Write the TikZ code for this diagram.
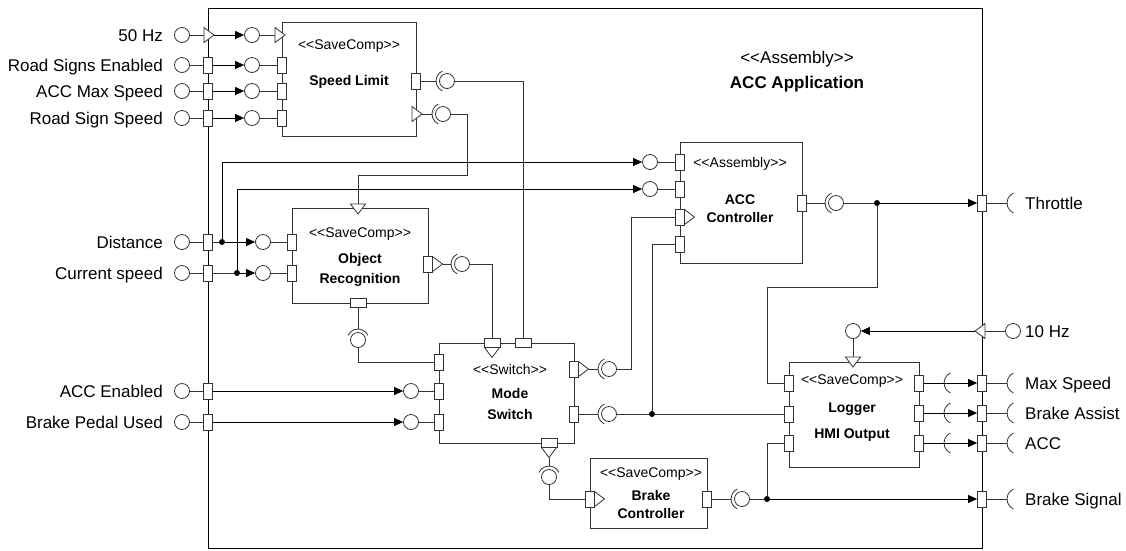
\documentclass[tikz,border=0pt]{standalone}
\usepackage{fontspec}
\setmainfont{Liberation Sans}[Ligatures=TeXOff]
\usetikzlibrary{arrows.meta}
\tikzset{
  box/.style={draw=black!80, line width=0.8pt, rectangle, inner sep=0pt},
  port/.style={draw=black!80, fill=white, line width=0.8pt, rectangle, inner sep=0pt, minimum width=9pt, minimum height=16pt},
  hport/.style={port, minimum width=16pt, minimum height=9pt},
  ball/.style={draw=black!80, fill=white, line width=0.8pt, circle, inner sep=0pt, minimum size=15pt},
  jdot/.style={circle, fill=black, inner sep=0pt, minimum size=6pt},
  wire/.style={draw=black!80, line width=0.8pt},
  sig/.style={draw=black, line width=0.8pt, -{Triangle[length=9pt,width=8pt]}},
  lbl/.style={inner sep=0pt, text height=12.2pt, text depth=0pt, font=\fontsize{17}{20}\selectfont},
  stereo/.style={inner sep=0pt, text height=10pt, text depth=0pt, font=\fontsize{14}{16}\selectfont},
  cname/.style={stereo, font=\fontsize{14}{16}\selectfont\bfseries},
  trig/.pic={\draw[wire, fill=white] (0,-7.5) -- (10,0) -- (0,7.5) -- cycle;
    \coordinate (-base) at (0,0); \coordinate (-tip) at (10,0);},
  sock/.pic={\draw[wire] (115:11) arc[start angle=115, end angle=245, radius=11];
    \coordinate (-end) at (-11,0);}
}
\begin{document}
\begin{tikzpicture}[x=1pt, y=-1pt]
\useasboundingbox (0,0) rectangle (1126,550);
\node[box, draw=black, minimum width=774pt, minimum height=540pt] (asm) at (595,278) {};
\node[lbl] (asmst) at (797,57) {<<Assembly>>};
\node[lbl, font=\fontsize{17}{20}\selectfont\bfseries] (asmnm) at (797,82) {ACC Application};

\node[box, minimum width=134pt, minimum height=114pt] (sl) at (349,79) {};
\node[stereo] (slst) at (349,44) {<<SaveComp>>};
\node[cname] (slnm) at (349,80) {Speed Limit};
\node[box, minimum width=136pt, minimum height=95pt] (orc) at (360,255.5) {};
\node[stereo] (orst) at (360,232) {<<SaveComp>>};
\node[cname] (ornm1) at (360,258) {Object};
\node[cname] (ornm2) at (360,278) {Recognition};
\node[box, minimum width=135pt, minimum height=100pt] (ms) at (506.5,393) {};
\node[stereo] (msst) at (510,369) {<<Switch>>};
\node[cname] (msnm1) at (510,393) {Mode};
\node[cname] (msnm2) at (510,414) {Switch};
\node[box, minimum width=122pt, minimum height=121pt] (acc) at (741,202.5) {};
\node[stereo] (accst) at (740,162) {<<Assembly>>};
\node[cname] (accnm1) at (740,199) {ACC};
\node[cname] (accnm2) at (740,217) {Controller};
\node[box, minimum width=130pt, minimum height=105pt] (lg) at (854,414.5) {};
\node[stereo] (lgst) at (852,379) {<<SaveComp>>};
\node[cname] (lgnm1) at (852,407) {Logger};
\node[cname] (lgnm2) at (852,433) {HMI Output};
\node[box, minimum width=117pt, minimum height=70pt] (bc) at (648.5,493) {};
\node[stereo] (bcst) at (651,472) {<<SaveComp>>};
\node[cname] (bcnm1) at (651,495) {Brake};
\node[cname] (bcnm2) at (651,513) {Controller};

\node[lbl, anchor=east] (tHz50) at (163,35) {50 Hz};
\node[lbl, anchor=east] (tRSE) at (163,65) {Road Signs Enabled};
\node[lbl, anchor=east] (tAMS) at (163,91) {ACC Max Speed};
\node[lbl, anchor=east] (tRSS) at (163,118) {Road Sign Speed};
\node[lbl, anchor=east] (tDist) at (163,242) {Distance};
\node[lbl, anchor=east] (tCur) at (163,273) {Current speed};
\node[lbl, anchor=east] (tAEn) at (163,391) {ACC Enabled};
\node[lbl, anchor=east] (tBPU) at (163,422) {Brake Pedal Used};
\node[lbl, anchor=west] (tThr) at (1025,203) {Throttle};
\node[lbl, anchor=west] (tHz10) at (1025,331) {10 Hz};
\node[lbl, anchor=west] (tMax) at (1025,383) {Max Speed};
\node[lbl, anchor=west] (tBA) at (1025,413) {Brake Assist};
\node[lbl, anchor=west] (tACC) at (1025,443) {ACC};
\node[lbl, anchor=west] (tBS) at (1025,499) {Brake Signal};

\node[ball] (eHz50) at (182,35) {};
\node[ball] (eRSE) at (182,65) {};
\node[ball] (eAMS) at (182,91) {};
\node[ball] (eRSS) at (182,118) {};
\node[ball] (eDist) at (182,242) {};
\node[ball] (eCur) at (182,273) {};
\node[ball] (eAEn) at (182,391) {};
\node[ball] (eBPU) at (182,422) {};
\node[ball] (eHz10) at (1013,331) {};

\pic (pHz50) at (204,35) {trig};
\node[port] (pRSE) at (208,65) {};
\node[port] (pAMS) at (208,91) {};
\node[port] (pRSS) at (208,118) {};
\node[port] (pDist) at (208,242) {};
\node[port] (pCur) at (208,273) {};
\node[port] (pAEn) at (208,391) {};
\node[port] (pBPU) at (208,422) {};
\node[port] (pThr) at (982,203) {};
\pic[rotate=180] (pHz10) at (985,331) {trig};
\node[port] (pMax) at (982,383) {};
\node[port] (pBA) at (982,413) {};
\node[port] (pACC) at (982,443) {};
\node[port] (pBS) at (982,499) {};

\node[ball] (iHz50) at (252,35) {};
\node[ball] (iRSE) at (252,65) {};
\node[ball] (iAMS) at (252,91) {};
\node[ball] (iRSS) at (252,118) {};
\node[ball] (iDist) at (263,242) {};
\node[ball] (iCur) at (263,273) {};
\node[ball] (iAEn) at (411,391) {};
\node[ball] (iBPU) at (411,422) {};
\node[ball] (iAcc1) at (650,162) {};
\node[ball] (iAcc2) at (650,189) {};
\node[ball] (iHz10) at (853,331) {};

\pic (slHz) at (275,35) {trig};
\node[port] (slRSE) at (282,65) {};
\node[port] (slAMS) at (282,91) {};
\node[port] (slRSS) at (282,118) {};
\node[port] (slOut) at (416,81) {};
\pic (slTrg) at (412,114) {trig};
\pic[rotate=-90] (orTrg) at (358,204) {trig};
\node[port] (orDist) at (292,242) {};
\node[port] (orCur) at (292,273) {};
\node[port] (orOut) at (428,264) {};
\pic (orOutT) at (432.5,264) {trig};
\node[hport] (orBot) at (358,303) {};
\node[hport] (msTrg) at (492,343) {};
\pic[rotate=-90] (msTrgT) at (492,347.5) {trig};
\node[hport] (msTop) at (523,343) {};
\node[port] (msIn1) at (439,362) {};
\node[port] (msAEn) at (439,391) {};
\node[port] (msBPU) at (439,422) {};
\node[port] (msOut1) at (574,369) {};
\pic (msOut1T) at (578.5,369) {trig};
\node[port] (msOut2) at (574,414) {};
\node[hport] (msBot) at (549,443) {};
\pic[rotate=-90] (msBotT) at (549,447.5) {trig};
\node[port] (accIn1) at (680,162) {};
\node[port] (accIn2) at (680,189) {};
\node[port] (accIn3) at (680,217) {};
\pic (accIn3T) at (684.5,217) {trig};
\node[port] (accIn4) at (680,244) {};
\node[port] (accOut) at (802,203) {};
\pic[rotate=-90] (lgTrg) at (853,357) {trig};
\node[port] (lgIn1) at (789,383) {};
\node[port] (lgIn2) at (789,414) {};
\node[port] (lgIn3) at (789,443) {};
\node[port] (lgOut1) at (919,383) {};
\node[port] (lgOut2) at (919,413) {};
\node[port] (lgOut3) at (919,443) {};
\node[port] (bcIn) at (590,499) {};
\pic (bcInT) at (594.5,499) {trig};
\node[port] (bcOut) at (707,499) {};

\node[ball] (aSLOut) at (447,81) {};
\pic (sSLOut) at (447,81) {sock};
\node[ball] (aSLTrg) at (443,114) {};
\pic (sSLTrg) at (443,114) {sock};
\node[ball] (aOR) at (462,264) {};
\pic (sOR) at (462,264) {sock};
\node[ball] (aORB) at (358,340) {};
\pic[rotate=-90] (sORB) at (358,340) {sock};
\node[ball] (aMS1) at (609,369) {};
\pic (sMS1) at (609,369) {sock};
\node[ball] (aMS2) at (609,414) {};
\pic (sMS2) at (609,414) {sock};
\node[ball] (aMSB) at (549,477) {};
\pic[rotate=-90] (sMSB) at (549,477) {sock};
\node[ball] (aACC) at (836,203) {};
\pic (sACC) at (836,203) {sock};
\node[ball] (aBC) at (742,499) {};
\pic (sBC) at (742,499) {sock};
\pic (kMax) at (955,383) {sock};
\pic (kBA) at (955,413) {sock};
\pic (kACC) at (955,443) {sock};
\pic (sThr) at (1018,203) {sock};
\pic (sMax) at (1018,383) {sock};
\pic (sBA) at (1018,413) {sock};
\pic (sACCo) at (1018,443) {sock};
\pic (sBS) at (1018,499) {sock};

\node[jdot] (jDist) at (222,242) {};
\node[jdot] (jCur) at (237,273) {};
\node[jdot] (jACC) at (877,203) {};
\node[jdot] (jMS) at (652,414) {};
\node[jdot] (jBC) at (767,499) {};
\coordinate (kOr) at (467,175);
\coordinate (kAcc3) at (631,217);
\coordinate (kLg) at (767,287);

\draw[wire] (eHz50) -- (pHz50-base);
\draw[sig] (pHz50-tip) -- (iHz50);
\draw[wire] (iHz50) -- (slHz-base);
\draw[wire] (eRSE) -- (pRSE);
\draw[sig] (pRSE) -- (iRSE);
\draw[wire] (iRSE) -- (slRSE);
\draw[wire] (eAMS) -- (pAMS);
\draw[sig] (pAMS) -- (iAMS);
\draw[wire] (iAMS) -- (slAMS);
\draw[wire] (eRSS) -- (pRSS);
\draw[sig] (pRSS) -- (iRSS);
\draw[wire] (iRSS) -- (slRSS);
\draw[wire] (eDist) -- (pDist);
\draw[wire] (pDist) -- (jDist);
\draw[sig] (jDist) -- (iDist);
\draw[wire] (iDist) -- (orDist);
\draw[sig] (jDist) |- (iAcc1);
\draw[wire] (eCur) -- (pCur);
\draw[wire] (pCur) -- (jCur);
\draw[sig] (jCur) -- (iCur);
\draw[wire] (iCur) -- (orCur);
\draw[sig] (jCur) |- (iAcc2);
\draw[wire] (iAcc1) -- (accIn1);
\draw[wire] (iAcc2) -- (accIn2);
\draw[wire] (eAEn) -- (pAEn);
\draw[sig] (pAEn) -- (iAEn);
\draw[wire] (iAEn) -- (msAEn);
\draw[wire] (eBPU) -- (pBPU);
\draw[sig] (pBPU) -- (iBPU);
\draw[wire] (iBPU) -- (msBPU);

\draw[wire] (slOut) -- (sSLOut-end);
\draw[wire] (aSLOut) -| (msTop);
\draw[wire] (slTrg-tip) -- (sSLTrg-end);
\draw[wire] (aSLTrg) -| (kOr) -| (orTrg-base);
\draw[wire] (orOutT-tip) -- (sOR-end);
\draw[wire] (aOR) -| (msTrg);
\draw[wire] (orBot) -- (sORB-end);
\draw[wire] (aORB) |- (msIn1);
\draw[wire] (msOut1T-tip) -- (sMS1-end);
\draw[wire] (aMS1) -| (kAcc3) -- (accIn3);
\draw[wire] (msOut2) -- (sMS2-end);
\draw[wire] (aMS2) -- (jMS) -- (lgIn2);
\draw[wire] (jMS) |- (accIn4);
\draw[wire] (msBotT-tip) -- (sMSB-end);
\draw[wire] (aMSB) |- (bcIn);
\draw[wire] (accOut) -- (sACC-end);
\draw[wire] (aACC) -- (jACC);
\draw[sig] (jACC) -- (pThr);
\draw[wire] (jACC) |- (kLg) |- (lgIn1);
\draw[wire] (bcOut) -- (sBC-end);
\draw[wire] (aBC) -- (jBC);
\draw[sig] (jBC) -- (pBS);
\draw[wire] (jBC) |- (lgIn3);
\draw[wire] (eHz10) -- (pHz10-base);
\draw[sig] (pHz10-tip) -- (iHz10);
\draw[wire] (iHz10) -- (lgTrg-base);
\draw[sig] (lgOut1) -- (pMax);
\draw[sig] (lgOut2) -- (pBA);
\draw[sig] (lgOut3) -- (pACC);
\draw[wire] (pThr) -- (sThr-end);
\draw[wire] (pMax) -- (sMax-end);
\draw[wire] (pBA) -- (sBA-end);
\draw[wire] (pACC) -- (sACCo-end);
\draw[wire] (pBS) -- (sBS-end);
\end{tikzpicture}
\end{document}
